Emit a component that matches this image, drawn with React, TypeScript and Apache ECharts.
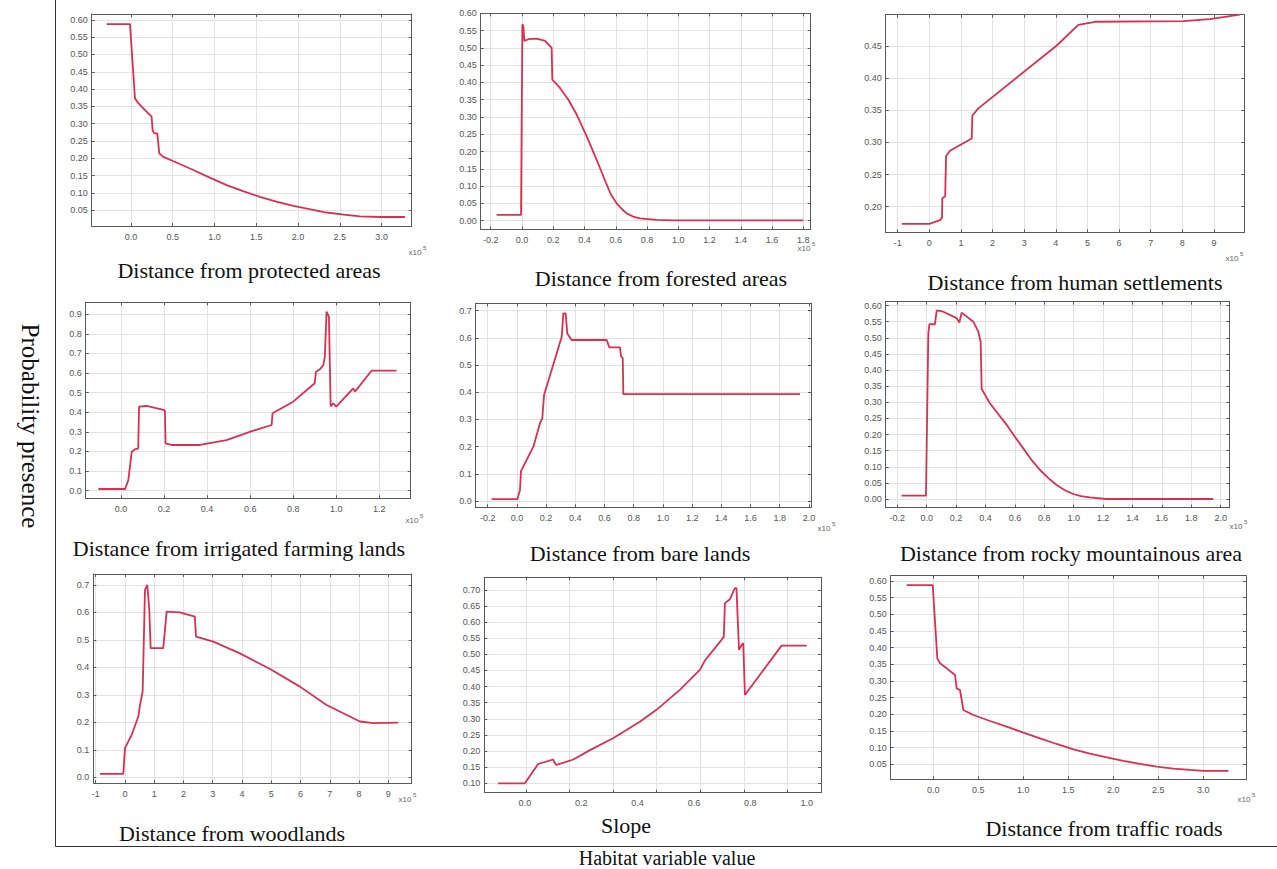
import React, { useEffect, useRef } from 'react';
import * as echarts from 'echarts';

// ---------- data ----------
const panelTitles = [
  'Distance from protected areas',
  'Distance from forested areas',
  'Distance from human settlements',
  'Distance from irrigated farming lands',
  'Distance from bare lands',
  'Distance from rocky mountainous area',
  'Distance from woodlands',
  'Slope',
  'Distance from traffic roads',
];
const yAxisTitle = 'Probability presence';
const xAxisTitle = 'Habitat variable value';

const protectedX = [-0.29, -0.012, 0.048, 0.088, 0.168, 0.247, 0.259, 0.279, 0.315, 0.339, 0.387, 0.55, 0.746, 0.95, 1.145, 1.35, 1.544, 1.75, 1.943, 2.15, 2.341, 2.55, 2.74, 2.98, 3.279];
const protectedY = [0.588, 0.588, 0.373, 0.359, 0.339, 0.32, 0.281, 0.272, 0.272, 0.214, 0.204, 0.187, 0.166, 0.143, 0.122, 0.104, 0.088, 0.074, 0.062, 0.052, 0.043, 0.037, 0.032, 0.03, 0.03];

const forestedX = [-0.162, -0.006, 0.0026, 0.009, 0.015, 0.041, 0.094, 0.148, 0.19, 0.194, 0.243, 0.297, 0.35, 0.414, 0.478, 0.51, 0.542, 0.57, 0.606, 0.64, 0.67, 0.71, 0.755, 0.862, 0.968, 1.8];
const forestedY = [0.0165, 0.0165, 0.568, 0.563, 0.52, 0.525, 0.527, 0.52, 0.5, 0.408, 0.384, 0.35, 0.307, 0.244, 0.176, 0.14, 0.104, 0.075, 0.05, 0.033, 0.021, 0.012, 0.0068, 0.002, 0.001, 0.001];

const settlementX = [-0.87, 0.0, 0.34, 0.4, 0.41, 0.5, 0.53, 0.65, 1.34, 1.36, 1.55, 4.03, 4.71, 5.24, 8.03, 8.87, 9.82];
const settlementY = [0.173, 0.173, 0.179, 0.183, 0.213, 0.216, 0.279, 0.287, 0.306, 0.342, 0.353, 0.451, 0.483, 0.488, 0.489, 0.492, 0.499];

const farmingX = [-0.105, 0.019, 0.034, 0.05, 0.065, 0.08, 0.084, 0.119, 0.197, 0.204, 0.207, 0.235, 0.367, 0.49, 0.615, 0.7, 0.704, 0.8, 0.9, 0.906, 0.924, 0.94, 0.947, 0.955, 0.966, 0.974, 0.986, 1.0, 1.079, 1.087, 1.164, 1.28];
const farmingY = [0.0085, 0.0085, 0.054, 0.199, 0.211, 0.216, 0.429, 0.432, 0.412, 0.408, 0.241, 0.233, 0.233, 0.258, 0.306, 0.335, 0.395, 0.454, 0.548, 0.607, 0.619, 0.641, 0.684, 0.913, 0.888, 0.429, 0.446, 0.429, 0.522, 0.505, 0.612, 0.612];

const bareX = [-0.173, 0.003, 0.021, 0.028, 0.113, 0.158, 0.174, 0.186, 0.307, 0.318, 0.334, 0.345, 0.375, 0.615, 0.633, 0.706, 0.713, 0.725, 0.729, 1.939];
const bareY = [0.007, 0.007, 0.04, 0.11, 0.2, 0.286, 0.304, 0.39, 0.604, 0.69, 0.69, 0.616, 0.592, 0.592, 0.565, 0.565, 0.533, 0.525, 0.393, 0.393];

const rockyX = [-0.171, -0.005, 0.011, 0.018, 0.056, 0.068, 0.113, 0.204, 0.222, 0.238, 0.317, 0.351, 0.367, 0.374, 0.43, 0.544, 0.6, 0.657, 0.71, 0.771, 0.83, 0.884, 0.94, 0.997, 1.05, 1.11, 1.22, 1.95];
const rockyY = [0.0103, 0.0103, 0.514, 0.542, 0.542, 0.585, 0.581, 0.561, 0.547, 0.578, 0.55, 0.519, 0.488, 0.341, 0.297, 0.23, 0.193, 0.157, 0.123, 0.09, 0.064, 0.0434, 0.027, 0.0155, 0.009, 0.005, 0.0, 0.0];

const woodlandX = [-0.85, -0.055, 0.002, 0.23, 0.458, 0.515, 0.606, 0.686, 0.765, 0.834, 0.879, 1.31, 1.426, 1.88, 2.39, 2.43, 3.02, 3.93, 4.96, 5.98, 6.89, 8.03, 8.49, 9.34];
const woodlandY = [0.012, 0.012, 0.106, 0.154, 0.221, 0.263, 0.312, 0.682, 0.7, 0.609, 0.47, 0.47, 0.603, 0.6, 0.585, 0.512, 0.494, 0.451, 0.394, 0.33, 0.263, 0.203, 0.197, 0.199];

const slopeX = [-0.095, 0.0, 0.047, 0.1, 0.107, 0.112, 0.172, 0.231, 0.313, 0.408, 0.467, 0.55, 0.621, 0.639, 0.698, 0.706, 0.71, 0.728, 0.745, 0.751, 0.755, 0.76, 0.769, 0.775, 0.781, 0.911, 1.0];
const slopeY = [0.1, 0.1, 0.16, 0.174, 0.162, 0.157, 0.174, 0.203, 0.24, 0.291, 0.328, 0.39, 0.452, 0.481, 0.545, 0.555, 0.659, 0.671, 0.705, 0.705, 0.617, 0.514, 0.529, 0.535, 0.374, 0.527, 0.527];

const roadsX = [-0.296, -0.007, 0.044, 0.074, 0.148, 0.241, 0.259, 0.296, 0.333, 0.444, 0.63, 0.815, 1.0, 1.185, 1.37, 1.556, 1.74, 1.926, 2.11, 2.296, 2.48, 2.667, 2.85, 3.0, 3.278];
const roadsY = [0.588, 0.588, 0.368, 0.353, 0.338, 0.318, 0.278, 0.273, 0.213, 0.198, 0.18, 0.163, 0.145, 0.128, 0.111, 0.095, 0.082, 0.071, 0.06, 0.051, 0.043, 0.037, 0.033, 0.03, 0.03];

const seriesX = [protectedX, forestedX, settlementX, farmingX, bareX, rockyX, woodlandX, slopeX, roadsX];
const seriesY = [protectedY, forestedY, settlementY, farmingY, bareY, rockyY, woodlandY, slopeY, roadsY];

// axis extents: [min, max, step, decimals]
const xScales = [
  [-0.47, 3.36, 0.5, 1],
  [-0.264, 1.847, 0.2, 1],
  [-1.38, 9.96, 1, 0],
  [-0.164, 1.346, 0.2, 1],
  [-0.282, 2.014, 0.2, 1],
  [-0.279, 2.059, 0.2, 1],
  [-1.08, 9.8, 1, 0],
  [-0.144, 1.051, 0.2, 1],
  [-0.474, 3.474, 0.5, 1],
];
const yScales = [
  [0.004, 0.617, 0.05, 2],
  [-0.025, 0.6, 0.05, 2],
  [0.16, 0.499, 0.05, 2],
  [-0.039, 0.961, 0.1, 1],
  [-0.023, 0.727, 0.1, 1],
  [-0.027, 0.612, 0.05, 2],
  [-0.022, 0.74, 0.1, 1],
  [0.071, 0.739, 0.05, 2],
  [0.005, 0.616, 0.05, 2],
];
// grid-line scale of the slope panel (its tick marks do not line up with its labels)
const slopeGridScale = [-0.957, 6.77, 1];

// ---------- layout ----------
const boxes = [
  [91.7, 14, 411.7, 226],
  [480.7, 13.3, 810.7, 229.3],
  [885.7, 14.7, 1244.3, 232.3],
  [85.7, 302.3, 410.7, 498.3],
  [475.7, 303.3, 811, 507.3],
  [885.7, 301.7, 1229.3, 507.7],
  [93.3, 574, 411.7, 783.3],
  [484.3, 577.3, 821, 792.7],
  [890.7, 575.7, 1246, 779.3],
];
const titlePos = [
  [249, 270], [661, 278], [1075, 282],
  [239, 548], [640, 553], [1071, 553],
  [232, 833], [626, 825], [1104, 828],
];
const expPos = [
  [421, 252], [810, 248], [1238, 258],
  [418, 520], [830, 528], [1242, 526],
  [411, 799], null, [1250, 799],
];

const LINE_COLOR = '#d9304f';
const AXIS_COLOR = '#5a5a5a';
const GRID_COLOR = '#e2e2e2';
const LABEL_COLOR = '#555';

function fmt(step: number, dec: number) {
  return (v: number) => {
    const k = v / step;
    if (Math.abs(k - Math.round(k)) > 1e-6) return '';
    return (Math.round(k) * step).toFixed(dec);
  };
}

function buildOption() {
  const grid: any[] = [];
  const xAxis: any[] = [];
  const yAxis: any[] = [];
  const series: any[] = [];
  const graphic: any[] = [];

  const baseLine = { show: true, lineStyle: { color: AXIS_COLOR, width: 1 } };
  const baseTick = { show: true, inside: true, length: 3, lineStyle: { color: AXIS_COLOR } };
  const split = { show: true, lineStyle: { color: GRID_COLOR, width: 1 } };
  const labelBase = { color: LABEL_COLOR, fontSize: 9, fontFamily: 'Liberation Sans, Arial, sans-serif' };

  boxes.forEach((b) => {
    grid.push({ left: b[0], top: b[1], width: b[2] - b[0], height: b[3] - b[1], containLabel: false, show: true, backgroundColor: '#fff', borderWidth: 0 });
  });

  for (let i = 0; i < 9; i++) {
    const [xmin, xmax, xstep, xdec] = xScales[i];
    const [ymin, ymax, ystep, ydec] = yScales[i];
    const isSlope = i === 7;
    const gMin = isSlope ? slopeGridScale[0] : xmin;
    const gMax = isSlope ? slopeGridScale[1] : xmax;
    const gStep = isSlope ? slopeGridScale[2] : xstep;
    xAxis.push({
      type: 'value', gridIndex: i, position: 'bottom', min: gMin, max: gMax,
      minInterval: gStep, maxInterval: gStep, splitNumber: 8,
      axisLine: { ...baseLine, onZero: false }, axisTick: baseTick, splitLine: split,
      axisLabel: { ...labelBase, show: !isSlope, margin: 6, formatter: fmt(xstep, xdec) },
    });
    xAxis.push({
      type: 'value', gridIndex: i, position: 'top', min: gMin, max: gMax,
      minInterval: gStep, maxInterval: gStep, splitNumber: 8,
      axisLine: { ...baseLine, onZero: false }, axisTick: baseTick, splitLine: { show: false },
      axisLabel: { show: false },
    });
    yAxis.push({
      type: 'value', gridIndex: i, position: 'left', min: ymin, max: ymax,
      minInterval: ystep, maxInterval: ystep, splitNumber: 14,
      axisLine: { ...baseLine, onZero: false }, axisTick: baseTick, splitLine: split,
      axisLabel: { ...labelBase, margin: 4, formatter: fmt(ystep, ydec) },
    });
    yAxis.push({
      type: 'value', gridIndex: i, position: 'right', min: ymin, max: ymax,
      minInterval: ystep, maxInterval: ystep, splitNumber: 14,
      axisLine: { ...baseLine, onZero: false }, axisTick: baseTick, splitLine: { show: false },
      axisLabel: { show: false },
    });
  }

  // overlay grid carrying the slope panel's labels and line
  const sb = boxes[7];
  grid.push({ left: sb[0], top: sb[1], width: sb[2] - sb[0], height: sb[3] - sb[1], show: false });
  xAxis.push({
    type: 'value', gridIndex: 9, position: 'bottom', min: xScales[7][0], max: xScales[7][1],
    minInterval: xScales[7][2], maxInterval: xScales[7][2], splitNumber: 6,
    axisLine: { show: false, onZero: false }, axisTick: { show: false }, splitLine: { show: false },
    axisLabel: { ...labelBase, margin: 6, formatter: fmt(xScales[7][2], xScales[7][3]) },
  });
  yAxis.push({
    type: 'value', gridIndex: 9, min: yScales[7][0], max: yScales[7][1], show: false,
    splitLine: { show: false },
  });

  for (let i = 0; i < 9; i++) {
    const xs = seriesX[i];
    const ys = seriesY[i];
    const data = xs.map((x, k) => [x, ys[k]]);
    const isSlope = i === 7;
    series.push({
      type: 'line', name: panelTitles[i], data,
      xAxisIndex: isSlope ? 18 : i * 2, yAxisIndex: isSlope ? 18 : i * 2,
      showSymbol: false, symbol: 'none', smooth: false, clip: true,
      lineStyle: { color: LINE_COLOR, width: 1.8 },
      z: 3,
    });
  }

  graphic.push({ type: 'line', shape: { x1: 55.5, y1: 0, x2: 55.5, y2: 846.5 }, style: { stroke: '#333', lineWidth: 1 } });
  graphic.push({ type: 'line', shape: { x1: 55.5, y1: 846.5, x2: 1277, y2: 846.5 }, style: { stroke: '#333', lineWidth: 1 } });

  const serif = 'Liberation Serif, Times New Roman, serif';
  panelTitles.forEach((t, i) => {
    graphic.push({
      type: 'text', x: titlePos[i][0], y: titlePos[i][1],
      style: { text: t, fontFamily: serif, fontSize: 22, fill: '#111', textAlign: 'center', textVerticalAlign: 'middle' },
    });
  });
  graphic.push({
    type: 'text', x: 30, y: 426, rotation: -Math.PI / 2,
    style: { text: yAxisTitle, fontFamily: serif, fontSize: 25, fill: '#111', textAlign: 'center', textVerticalAlign: 'middle' },
  });
  graphic.push({
    type: 'text', x: 667, y: 858,
    style: { text: xAxisTitle, fontFamily: serif, fontSize: 20, fill: '#111', textAlign: 'center', textVerticalAlign: 'middle' },
  });
  expPos.forEach((p) => {
    if (!p) return;
    graphic.push({
      type: 'text', x: p[0] - 6, y: p[1],
      style: { text: 'x10', fontFamily: 'Liberation Sans, Arial, sans-serif', fontSize: 8, fill: '#666', textAlign: 'center', textVerticalAlign: 'middle' },
    });
    graphic.push({
      type: 'text', x: p[0] + 2, y: p[1] - 4,
      style: { text: '5', fontFamily: 'Liberation Sans, Arial, sans-serif', fontSize: 6, fill: '#666', textAlign: 'left', textVerticalAlign: 'middle' },
    });
  });

  return {
    animation: false,
    backgroundColor: '#fff',
    grid, xAxis, yAxis, series, graphic,
  };
}

export default function App() {
  const ref = useRef<HTMLDivElement>(null);
  useEffect(() => {
    if (!ref.current) return;
    const chart = echarts.init(ref.current, undefined, { renderer: 'svg' });
    chart.setOption(buildOption() as any);
    return () => chart.dispose();
  }, []);
  return (
    <div
      ref={ref}
      style={{ position: 'fixed', left: 0, top: 0, width: 1277, height: 869, background: '#fff' }}
    />
  );
}
